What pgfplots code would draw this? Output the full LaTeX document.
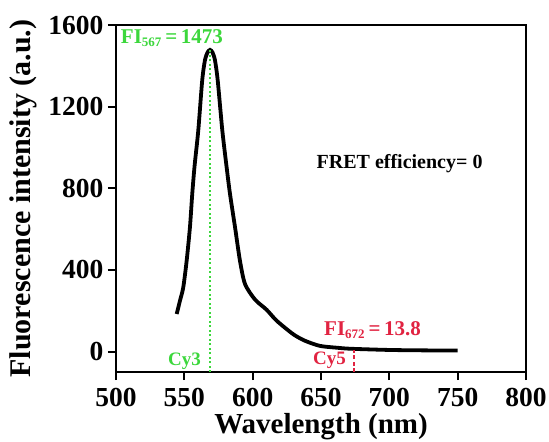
\documentclass[border=0pt]{standalone}
\usepackage{fontspec}
\setmainfont{Liberation Serif}
\usepackage{pgfplots}
\pgfplotsset{compat=1.18}
\definecolor{fgreen}{RGB}{60,215,60}
\definecolor{fred}{RGB}{225,35,65}
\begin{document}
\begin{tikzpicture}
\begin{axis}[
  name=ax,
  width=410pt, height=347pt, scale only axis,
  xmin=500, xmax=800, ymin=-100, ymax=1600,
  xtick={500,550,...,800}, ytick={0,400,800,1200,1600},
  tick align=outside, xtick pos=bottom, ytick pos=left,
  major tick length=8pt,
  axis line style={line width=2pt},
  every tick/.style={line width=2pt, black},
  /pgf/number format/assume math mode=true,
  /pgf/number format/1000 sep={},
  ticklabel style={font=\fontsize{27.5}{27.5}\selectfont\bfseries},
  yticklabel style={xshift=-1pt},
  xticklabel shift=5pt,
  xlabel={Wavelength (nm)}, ylabel={Fluorescence intensity (a.u.)},
  xlabel style={font=\fontsize{29}{29}\selectfont\bfseries, at={(axis description cs:0.5,0)}, anchor=base, yshift=-61pt},
  ylabel style={font=\fontsize{30}{30}\selectfont\bfseries, yshift=5pt},
  clip=false,
]
\addplot[black, line width=3.8pt, smooth, tension=0.45] coordinates {
(544.4,184) (546.8,249) (549.2,314) (551.7,445) (554.1,609) (555.8,773)
(557.5,910) (560.2,1083) (563.1,1330) (565.1,1428) (567,1466) (568.8,1478)
(570.6,1466) (572.4,1428) (574.4,1330) (577.8,1083) (581,900) (583.4,773)
(587.1,609) (590.7,445) (594.4,331) (601.7,255) (610.2,205) (617.6,151)
(629.7,85) (638.3,53) (649.2,28) (661.5,19) (672,13.8) (700,8) (725,6) (750,5)
};
\addplot[fgreen, line width=2pt, dash pattern=on 2pt off 2.5pt] coordinates {(568.8,-100) (568.8,1478)};
\addplot[fred, line width=1.8pt, dash pattern=on 4pt off 2.5pt] coordinates {(674,-100) (674,10)};
\node[anchor=base west, text=fgreen, font=\fontsize{21}{21}\selectfont\bfseries, inner sep=0pt]
  at (axis cs:503.5,1510) {FI\textsubscript{\fontsize{13}{13}\selectfont 567}\,=\,1473};
\node[anchor=base east, font=\fontsize{20}{20}\selectfont\bfseries, inner sep=0pt]
  at (axis cs:768.3,897) {FRET efficiency= 0};
\node[anchor=base west, text=fred, font=\fontsize{21}{21}\selectfont\bfseries, inner sep=0pt]
  at (axis cs:652.2,77) {FI\textsubscript{\fontsize{13}{13}\selectfont 672}\,=\,13.8};
\node[anchor=base east, text=fgreen, font=\fontsize{19}{19}\selectfont\bfseries, inner sep=0pt]
  at (axis cs:562.2,-70) {Cy3};
\node[anchor=base east, text=fred, font=\fontsize{19}{19}\selectfont\bfseries, inner sep=0pt]
  at (axis cs:668.3,-62) {Cy5};
\end{axis}
\pgfresetboundingbox
\useasboundingbox ([shift={(-116pt,-69pt)}]ax.south west) rectangle ([shift={(23pt,25pt)}]ax.north east);
\end{tikzpicture}
\end{document}
